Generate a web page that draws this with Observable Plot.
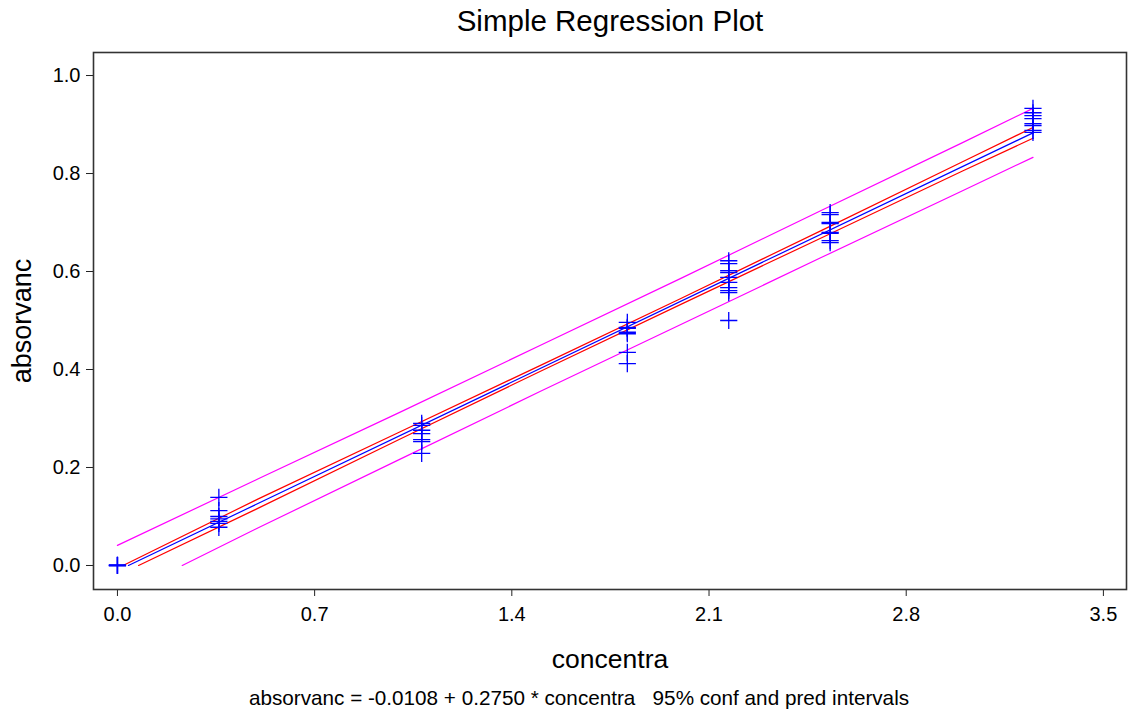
<!DOCTYPE html>
<html>
<head>
<meta charset="utf-8">
<script src="https://cdn.jsdelivr.net/npm/d3@7"></script>
<script src="https://cdn.jsdelivr.net/npm/@observablehq/plot@0.6"></script>
<style>
  html, body { margin: 0; padding: 0; background: #fff; }
  #chart { width: 1129px; height: 717px; }
</style>
</head>
<body>
<div id="chart"></div>
<script>
// Observed points: concentra (x) and absorvanc (y)
const pointX = [
  0, 0, 0, 0,
  0.36, 0.36, 0.36, 0.36, 0.36, 0.36, 0.36,
  1.08, 1.08, 1.08, 1.08, 1.08, 1.08, 1.08,
  1.81, 1.81, 1.81, 1.81, 1.81, 1.81, 1.81,
  2.17, 2.17, 2.17, 2.17, 2.17, 2.17, 2.17, 2.17, 2.17, 2.17,
  2.53, 2.53, 2.53, 2.53, 2.53, 2.53, 2.53, 2.53,
  3.25, 3.25, 3.25, 3.25, 3.25, 3.25, 3.25, 3.25
];
const pointY = [
  0.0, 0.0, 0.001, 0.0,
  0.139, 0.112, 0.100, 0.095, 0.090, 0.086, 0.078,
  0.290, 0.286, 0.276, 0.269, 0.257, 0.253, 0.229,
  0.496, 0.486, 0.484, 0.476, 0.473, 0.435, 0.412,
  0.622, 0.616, 0.602, 0.598, 0.588, 0.578, 0.567, 0.561, 0.557, 0.500,
  0.720, 0.716, 0.700, 0.698, 0.680, 0.678, 0.663, 0.659,
  0.933, 0.924, 0.918, 0.912, 0.902, 0.898, 0.888, 0.884
];

// Fitted line and interval curves
const fitX = [0.039, 3.25];
const fitY = [0.0, 0.883];
const ciUpperX = [0.02, 0.5, 1.0, 1.5, 2.0, 2.5, 3.0, 3.25];
const ciUpperY = [0.0, 0.136, 0.272, 0.408, 0.545, 0.684, 0.824, 0.894];
const ciLowerX = [0.075, 0.5, 1.0, 1.5, 2.0, 2.5, 3.0, 3.25];
const ciLowerY = [0.0, 0.117, 0.257, 0.396, 0.533, 0.669, 0.805, 0.872];
const piUpperX = [0.0, 0.5, 1.0, 1.5, 2.0, 2.5, 3.0, 3.25];
const piUpperY = [0.041, 0.177, 0.312, 0.449, 0.586, 0.725, 0.863, 0.933];
const piLowerX = [0.23, 0.5, 1.0, 1.5, 2.0, 2.5, 3.0, 3.25];
const piLowerY = [0.0, 0.077, 0.216, 0.355, 0.492, 0.629, 0.765, 0.833];

// Axis ticks and texts
const xTicks = [0.0, 0.7, 1.4, 2.1, 2.8, 3.5];
const yTicks = [0.0, 0.2, 0.4, 0.6, 0.8, 1.0];
const titleText = "Simple Regression Plot";
const xLabel = "concentra";
const yLabel = "absorvanc";
const captionText = "absorvanc = -0.0108 + 0.2750 * concentra   95% conf and pred intervals";

const zip = (xs, ys) => xs.map((x, i) => ({x, y: ys[i]}));
const points = zip(pointX, pointY);
const fit = zip(fitX, fitY);
const ciU = zip(ciUpperX, ciUpperY);
const ciL = zip(ciLowerX, ciLowerY);
const piU = zip(piUpperX, piUpperY);
const piL = zip(piLowerX, piLowerY);

const font = "'Liberation Sans', Arial, Helvetica, sans-serif";

const chart = Plot.plot({
  width: 1129,
  height: 717,
  marginLeft: 93,
  marginRight: 3,
  marginTop: 52,
  marginBottom: 128,
  style: {fontFamily: font, background: "#fff", color: "#000", overflow: "visible"},
  x: {domain: [-0.085, 3.582]},
  y: {domain: [-0.049, 1.047]},
  marks: [
    Plot.axisX({ticks: xTicks, tickFormat: d3.format(".1f"), tickSize: 7, tickPadding: 10, fontSize: 20, label: null, stroke: "#222"}),
    Plot.axisY({ticks: yTicks, tickFormat: d3.format(".1f"), tickSize: 7, tickPadding: 6, fontSize: 20, label: null, stroke: "#222"}),
    Plot.line(piU, {x: "x", y: "y", stroke: "#ff00ff", strokeWidth: 1.2}),
    Plot.line(piL, {x: "x", y: "y", stroke: "#ff00ff", strokeWidth: 1.2}),
    Plot.line(ciU, {x: "x", y: "y", stroke: "#ff0000", strokeWidth: 1.2}),
    Plot.line(ciL, {x: "x", y: "y", stroke: "#ff0000", strokeWidth: 1.2}),
    Plot.line(fit, {x: "x", y: "y", stroke: "#0000ff", strokeWidth: 1.2}),
    Plot.dot(points, {x: "x", y: "y", symbol: "plus", r: 5.6, stroke: "#0000ff", strokeWidth: 1.3}),
    Plot.frame({stroke: "#333", strokeWidth: 1.6}),
    Plot.text([titleText], {frameAnchor: "top", dy: -42, fontSize: 29.5, fill: "#000", text: d => d}),
    Plot.text([xLabel], {frameAnchor: "bottom", dy: 78, fontSize: 26.5, fill: "#000", text: d => d}),
    Plot.text([yLabel], {frameAnchor: "left", textAnchor: "middle", dx: -71, rotate: -90, fontSize: 27, fill: "#000", text: d => d}),
    Plot.text([captionText], {frameAnchor: "bottom", dx: -31, dy: 115, fontSize: 20.7, fill: "#000", text: d => d})
  ]
});
document.getElementById("chart").appendChild(chart);
</script>
</body>
</html>
